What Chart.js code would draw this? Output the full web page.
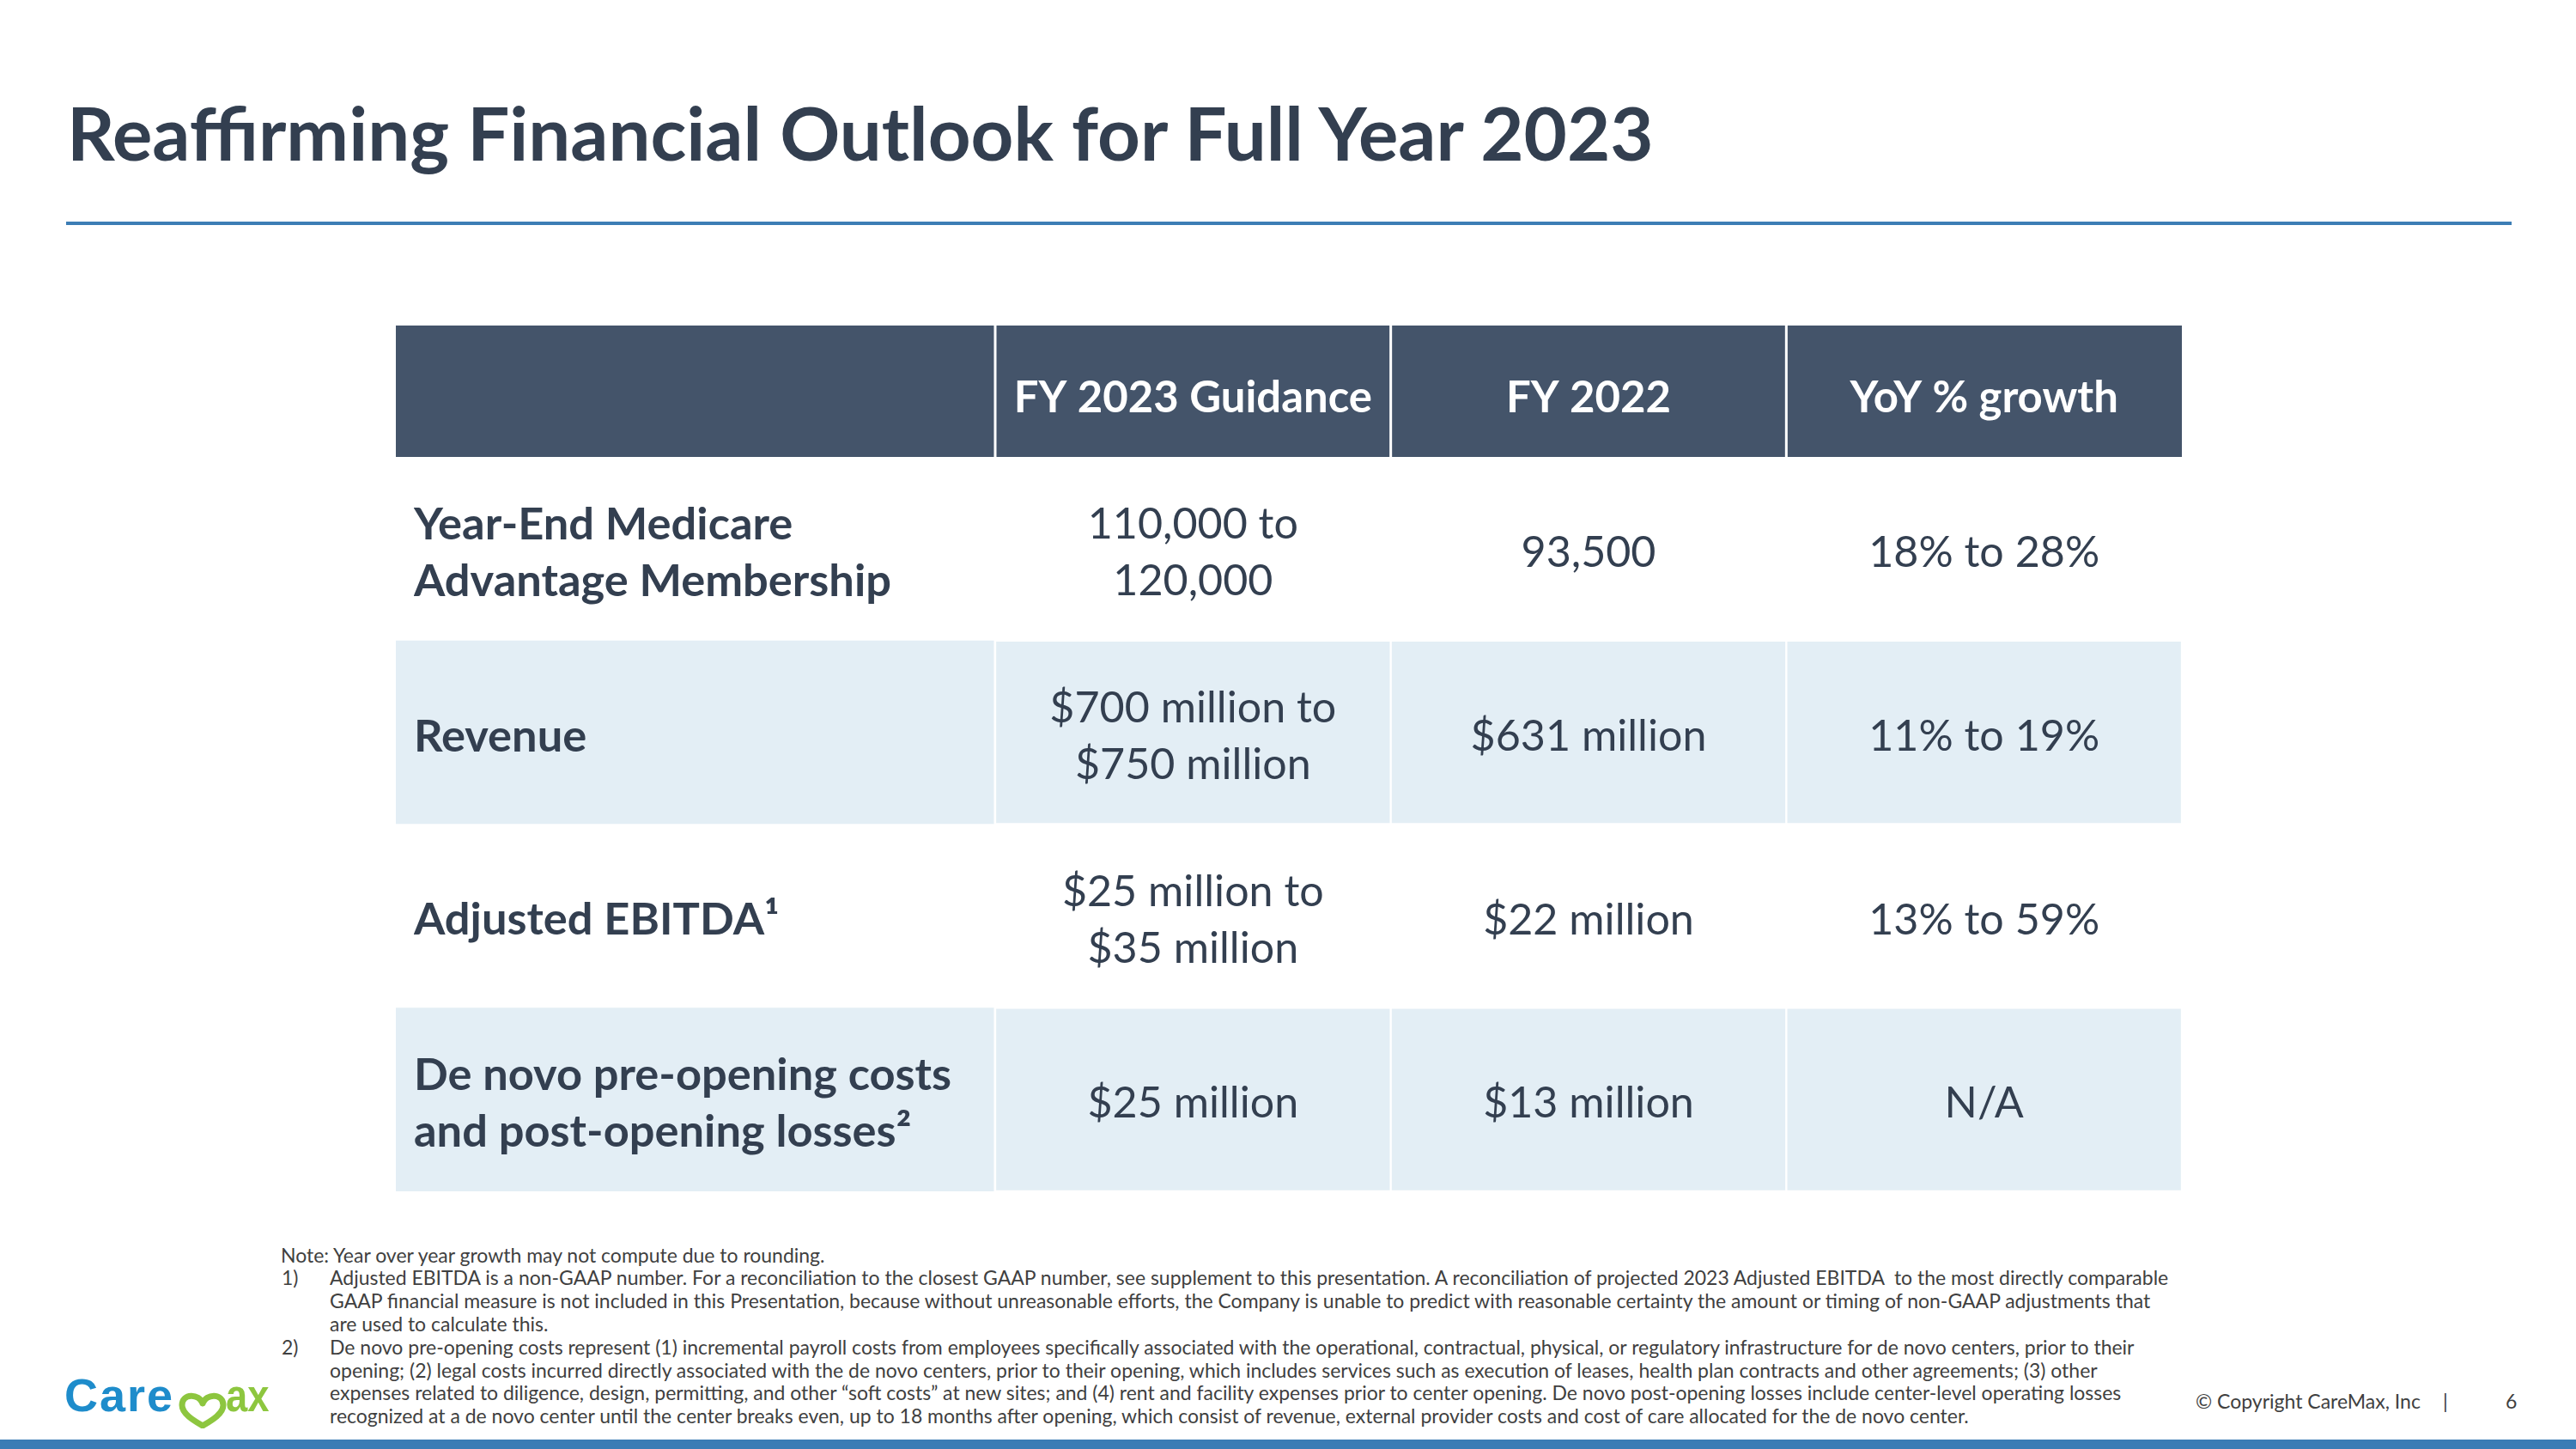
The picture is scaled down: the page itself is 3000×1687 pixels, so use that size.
<!DOCTYPE html>
<html>
<head>
<meta charset="utf-8">
<title>Reaffirming Financial Outlook for Full Year 2023</title>
<script src="https://cdn.jsdelivr.net/npm/chart.js@4.4.0/dist/chart.umd.min.js"></script>
<style>
  html, body { margin: 0; padding: 0; background: #fff; }
  body { width: 3000px; height: 1687px; position: relative; overflow: hidden; font-family: Lato, 'Open Sans', sans-serif; }
  .abs { position: absolute; white-space: pre; margin: 0; }
  #title { color: #333F50; font-weight: 700; }
  #rule { position: absolute; left: 77px; top: 258px; width: 2848px; height: 4px; background: #3C7DB5; }
  #tableWrap { position: absolute; left: 461px; top: 379px; width: 2080px; height: 1008px; }
  .note { color: #404040; }
  .foot { color: #404040; }
  #footerBar { position: absolute; left: 0; top: 1676px; width: 3000px; height: 11px; background: #3A7CB5; }
  #heart { position: absolute; left: 207px; top: 1619px; }
  #logoMax { transform: scaleX(0.84); transform-origin: left center; }
</style>
</head>
<body>
<h1 id="title" class="abs">Reaffirming Financial Outlook for Full Year 2023</h1>
<div id="rule"></div>
<div id="tableWrap"><canvas id="table"></canvas></div>
<div id="notes"></div>
<span id="logoCare" class="abs" style="color:#1E8CCB">Care</span>
<svg id="heart" width="58" height="44" viewBox="0 0 58 44">
  <path d="M29 15 C25 3 5 3 5 17 C5 27 19 35 29 41 C39 35 53 27 53 17 C53 3 33 3 29 15" fill="none" stroke="#8DC63F" stroke-width="7" stroke-linecap="round" stroke-linejoin="round"/>
</svg>
<span id="logoMax" class="abs" style="color:#8DC63F">ax</span>
<span id="copy" class="abs foot">© Copyright CareMax, Inc</span>
<span id="pipe" class="abs foot">|</span>
<span id="page" class="abs foot">6</span>
<div id="footerBar"></div>

<script>
/* ---------- Data ---------- */
const rowLabels = [
  ['Year-End Medicare', 'Advantage Membership'],
  'Revenue',
  'Adjusted EBITDA¹',
  ['De novo pre-opening costs', 'and post-opening losses²']
];
const columnHeads = ['FY 2023 Guidance', 'FY 2022', 'YoY % growth'];
const guidance2023 = [['110,000 to', '120,000'], ['$700 million to', '$750 million'], ['$25 million to', '$35 million'], '$25 million'];
const actual2022 = ['93,500', '$631 million', '$22 million', '$13 million'];
const yoyGrowth = ['18% to 28%', '11% to 19%', '13% to 59%', 'N/A'];

const noteHead = 'Note: Year over year growth may not compute due to rounding.';
const footnotes = [
  ['1)', [
    'Adjusted EBITDA is a non-GAAP number. For a reconciliation to the closest GAAP number, see supplement to this presentation. A reconciliation of projected 2023 Adjusted EBITDA  to the most directly comparable',
    'GAAP financial measure is not included in this Presentation, because without unreasonable efforts, the Company is unable to predict with reasonable certainty the amount or timing of non-GAAP adjustments that',
    'are used to calculate this.'
  ]],
  ['2)', [
    'De novo pre-opening costs represent (1) incremental payroll costs from employees specifically associated with the operational, contractual, physical, or regulatory infrastructure for de novo centers, prior to their',
    'opening; (2) legal costs incurred directly associated with the de novo centers, prior to their opening, which includes services such as execution of leases, health plan contracts and other agreements; (3) other',
    'expenses related to diligence, design, permitting, and other “soft costs” at new sites; and (4) rent and facility expenses prior to center opening. De novo post-opening losses include center-level operating losses',
    'recognized at a de novo center until the center breaks even, up to 18 months after opening, which consist of revenue, external provider costs and cost of care allocated for the de novo center.'
  ]]
];

/* ---------- Styles ---------- */
const FONT = 'Lato';
const TEXT = '#333F50';
const HEADER_BG = '#44546A';
const ROW_ALT = '#E3EEF5';
const HEADER_H = 153;
const FIRST_COL_W = 677;
const CELL_LINE_H = 66;
const TEXT_NUDGE = 5; // canvas 'middle' sits a bit high for this font

/* ---------- Text helpers ---------- */
const mctx = document.createElement('canvas').getContext('2d');

// font size that makes the given strings as wide as they are on the slide
function fitSize(weight, family, texts, target) {
  mctx.font = `${weight} 100px ${family}`;
  const w = [].concat(texts).reduce((s, t) => s + mctx.measureText(t).width, 0);
  return 100 * target / w;
}

// put an element so its text baseline lands on `baseline`
function place(el, font, left, baseline, lineH) {
  el.style.font = font;
  el.style.lineHeight = lineH + 'px';
  mctx.font = font;
  const m = mctx.measureText('Hg');
  const a = m.fontBoundingBoxAscent, d = m.fontBoundingBoxDescent;
  el.style.left = left + 'px';
  el.style.top = (baseline - ((lineH - a - d) / 2 + a)) + 'px';
}

/* ---------- Slide text ---------- */
const titleEl = document.getElementById('title');
const titleSize = fitSize(700, FONT, titleEl.textContent, 1855);
place(titleEl, `700 ${titleSize}px ${FONT}`, 78, 188, titleSize * 1.2);

const noteSize = fitSize(400, FONT, footnotes[0][1][0], 2149);
const noteFont = `400 ${noteSize}px ${FONT}`;
const notesEl = document.getElementById('notes');
let lineNo = 0;
function addNote(text, left) {
  const el = document.createElement('div');
  el.className = 'abs note';
  el.textContent = text;
  notesEl.appendChild(el);
  place(el, noteFont, left, 1470 + lineNo * 26.8, 27);
}
addNote(noteHead, 327);
lineNo++;
footnotes.forEach(([mark, lines]) => {
  addNote(mark, 328);
  lines.forEach(t => { addNote(t, 384); lineNo++; });
});

const footSize = fitSize(400, FONT, '© Copyright CareMax, Inc', 262);
const footFont = `400 ${footSize}px ${FONT}`;
place(document.getElementById('copy'), footFont, 2557, 1640, 28);
place(document.getElementById('pipe'), footFont, 2845, 1640, 28);
place(document.getElementById('page'), footFont, 2918, 1640, 28);

const logoFont = "700 54px 'Liberation Sans'";
place(document.getElementById('logoCare'), logoFont, 75, 1643, 60);
document.getElementById('logoCare').style.letterSpacing = '2px';
place(document.getElementById('logoMax'), logoFont, 263, 1643, 60);

/* ---------- Table (Chart.js) ---------- */
const headSize = fitSize(700, FONT, ['FY 2023 Guidance', 'YoY % growth'], 730);
const labelSize = fitSize(700, FONT, ['Year-End Medicare', 'Advantage Membership', 'De novo pre-opening costs'], 1624);
const valueSize = fitSize(400, FONT, ['110,000 to', '93,500', '18% to 28%', '$25 million to', '$631 million'], 1251);

const columnValues = [guidance2023, actual2022, yoyGrowth];
const datasets = columnValues.map((vals, c) => ({
  label: columnHeads[c],
  data: vals.map(() => [c, c + 1]),
  cells: vals,
  backgroundColor: ctx => ctx.dataIndex % 2 ? ROW_ALT : '#FFFFFF',
  borderColor: '#FFFFFF',
  borderWidth: 1.5,
  borderSkipped: false,
  grouped: false,
  barPercentage: 1,
  categoryPercentage: 1
}));

const tableBg = {
  id: 'tableBg',
  beforeDraw(chart) {
    const { ctx, chartArea, scales: { x, y } } = chart;
    ctx.save();
    ctx.fillStyle = HEADER_BG;
    ctx.fillRect(0, 0, chart.width, chartArea.top);
    ctx.fillStyle = '#FFFFFF';
    for (let v = 0; v < columnHeads.length; v++) {
      ctx.fillRect(x.getPixelForValue(v) - 1.5, 0, 3, chartArea.top);
    }
    rowLabels.forEach((_, i) => {
      const a = y.getPixelForValue(i - 0.5), b = y.getPixelForValue(i + 0.5);
      ctx.fillStyle = i % 2 ? ROW_ALT : '#FFFFFF';
      ctx.fillRect(0, Math.min(a, b), chartArea.left - 1.5, Math.abs(b - a));
    });
    ctx.restore();
  }
};

const cellText = {
  id: 'cellText',
  afterDatasetsDraw(chart) {
    const { ctx } = chart;
    ctx.save();
    ctx.font = `400 ${valueSize}px ${FONT}`;
    ctx.fillStyle = TEXT;
    ctx.textAlign = 'center';
    ctx.textBaseline = 'middle';
    chart.data.datasets.forEach((ds, di) => {
      chart.getDatasetMeta(di).data.forEach((bar, i) => {
        const { x, base, y } = bar.getProps(['x', 'base', 'y'], true);
        const lines = [].concat(ds.cells[i]);
        lines.forEach((t, k) => {
          ctx.fillText(t, (x + base) / 2, y + TEXT_NUDGE + (k - (lines.length - 1) / 2) * CELL_LINE_H);
        });
      });
    });
    ctx.restore();
  }
};

new Chart(document.getElementById('table'), {
  type: 'bar',
  data: { labels: rowLabels, datasets },
  options: {
    indexAxis: 'y',
    responsive: true,
    maintainAspectRatio: false,
    animation: false,
    layout: { padding: { left: 21, top: 0, right: 0, bottom: 0 } },
    plugins: { legend: { display: false }, tooltip: { enabled: false } },
    scales: {
      x: {
        type: 'linear',
        position: 'top',
        min: 0,
        max: columnHeads.length,
        grid: { display: false, drawTicks: false },
        border: { display: false },
        afterBuildTicks: s => { s.ticks = columnHeads.map((_, i) => ({ value: i + 0.5 })); },
        afterFit: s => { s.height = HEADER_H; s.paddingLeft = 0; s.paddingRight = 0; },
        ticks: {
          autoSkip: false,
          maxRotation: 0,
          color: '#FFFFFF',
          font: { family: FONT, weight: 'bold', size: headSize, lineHeight: 1.2 },
          padding: HEADER_H - 85 - headSize * 0.6,
          callback: (v, i) => columnHeads[i]
        }
      },
      y: {
        type: 'category',
        grid: { display: false, drawTicks: false },
        border: { display: false },
        // keep the rows filling the whole height: no room kept for label overhang
        afterFit: s => { s.width = FIRST_COL_W; s.paddingTop = 0; s.paddingBottom = 0; },
        ticks: {
          autoSkip: false,
          crossAlign: 'far',
          labelOffset: TEXT_NUDGE,
          color: TEXT,
          font: { family: FONT, weight: 'bold', size: labelSize, lineHeight: CELL_LINE_H / labelSize }
        }
      }
    }
  },
  plugins: [tableBg, cellText]
});
</script>
</body>
</html>
